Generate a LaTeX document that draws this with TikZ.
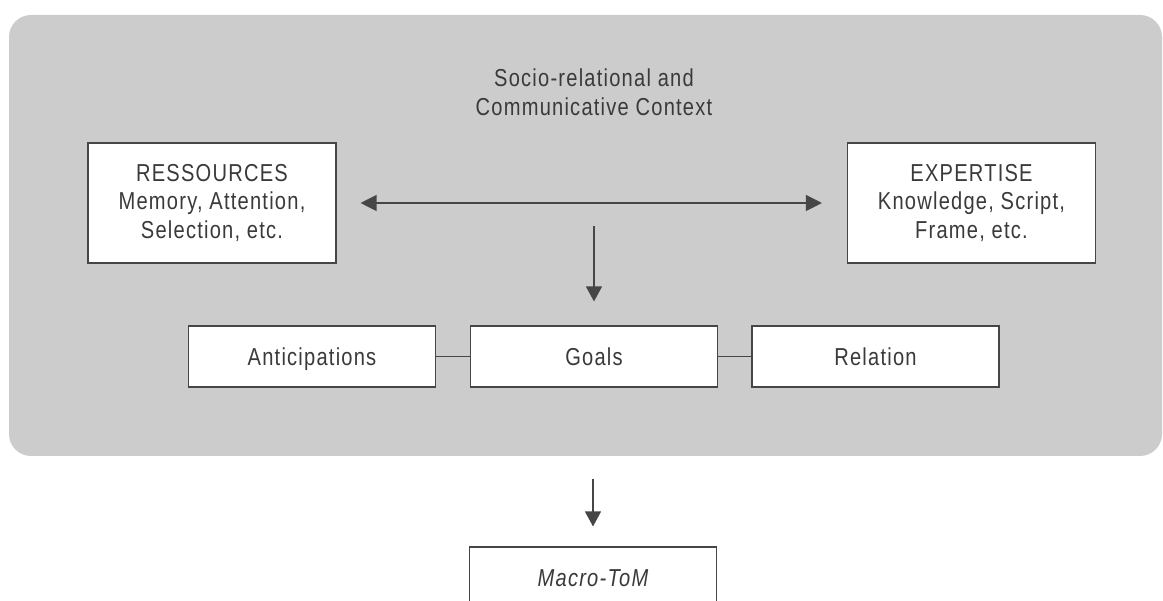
\documentclass[tikz,border=0pt]{standalone}
\usepackage{fontspec}
\setmainfont{Liberation Sans}[FakeStretch=0.82, LetterSpace=5]
\usetikzlibrary{arrows.meta}
\definecolor{panelgray}{HTML}{CCCCCC}
\definecolor{inkgray}{HTML}{3A3A3A}
\definecolor{linegray}{HTML}{464646}
\begin{document}
\begin{tikzpicture}[x=1pt,y=-1pt,
  every node/.style={text=inkgray, font=\fontsize{24.5}{28.5}\selectfont},
  panel/.style={fill=panelgray, rounded corners=22pt},
  bigbox/.style={draw=linegray, line width=1.1pt, fill=white, align=center,
    minimum width=248pt, minimum height=120pt, inner sep=0pt},
  smallbox/.style={draw=linegray, line width=1.1pt, fill=white,
    minimum width=247pt, minimum height=61pt, inner sep=0pt,
    text height=17.6pt, text depth=0pt},
  heading/.style={align=center, inner sep=0pt},
  link/.style={draw=linegray, line width=1.2pt},
  flow/.style={link, -{Triangle[length=15pt,width=16pt]}},
  bothways/.style={link, {Triangle[length=16pt,width=16pt]}-{Triangle[length=16pt,width=16pt]}}
]
\useasboundingbox (0,0) rectangle (1163,601);
\clip (0,0) rectangle (1163,601);
\fill[white] (0,0) rectangle (1163,601);

% shaded context panel
\path[panel] (9,15) rectangle (1162,456);

% context heading
\node[heading] (ctx) at (594,92) {Socio-relational and\\Communicative Context};

% resources and expertise
\node[bigbox] (res) at (212,203) {RESSOURCES\\Memory, Attention,\\Selection, etc.};
\node[bigbox] (exp) at (971.5,203) {EXPERTISE\\Knowledge, Script,\\Frame, etc.};

% the three linked components
\node[smallbox] (ant) at (312,356.5) {Anticipations};
\node[smallbox] (goa) at (594,356.5) {Goals};
\node[smallbox] (rel) at (875.5,356.5) {Relation};

% outcome box, running past the lower edge
\node[smallbox, minimum height=62pt] (macro) at (593,578) {\itshape Macro-ToM};

% connectors
\draw[bothways, shorten <=24pt, shorten >=25pt] (res.east) -- (exp.west);
\coordinate (drop) at (594,226);
\draw[flow, shorten >=24pt] (drop) -- (goa.north);
\draw[link] (ant.east) -- (goa.west);
\draw[link] (goa.east) -- (rel.west);
\coordinate (outlet) at (593,479);
\draw[flow, shorten >=20pt] (outlet) -- (macro.north);
\end{tikzpicture}
\end{document}
